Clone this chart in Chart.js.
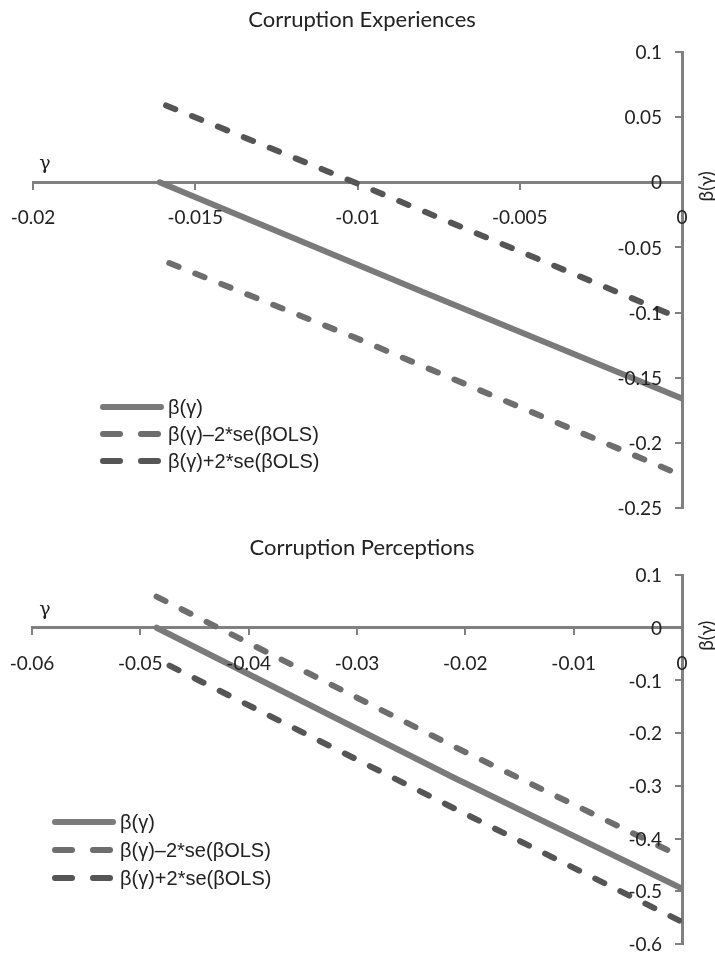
<!DOCTYPE html>
<html>
<head>
<meta charset="utf-8">
<script src="https://cdn.jsdelivr.net/npm/chart.js@4.4.0/dist/chart.umd.min.js"></script>
<style>
  body { margin: 0; background: #fff; width: 715px; height: 956px; overflow: hidden; }
  .box { position: absolute; left: 0; width: 715px; }
</style>
</head>
<body>
<div class="box" style="top:0;height:525px"><canvas id="expChart"></canvas></div>
<div class="box" style="top:525px;height:431px"><canvas id="percChart"></canvas></div>
<script>
// --- Corruption Experiences ---
const expXTicks = [-0.02, -0.015, -0.01, -0.005, 0];
const expYTicks = [0.1, 0.05, 0, -0.05, -0.1, -0.15, -0.2, -0.25];
const expBetaX = [-0.0161, -0.008, 0];
const expBetaY = [0, -0.084, -0.166];
const expMinusX = [-0.0158, -0.01, 0];
const expMinusY = [-0.062, -0.12, -0.225];
const expPlusX = [-0.0159, -0.0101, 0];
const expPlusY = [0.059, 0, -0.105];

// --- Corruption Perceptions ---
const percXTicks = [-0.06, -0.05, -0.04, -0.03, -0.02, -0.01, 0];
const percYTicks = [0.1, 0, -0.1, -0.2, -0.3, -0.4, -0.5, -0.6];
const percBetaX = [-0.0485, -0.021, 0];
const percBetaY = [0, -0.285, -0.495];
const percMinusX = [-0.0485, -0.021, 0];
const percMinusY = [0.059, -0.226, -0.435];
const percPlusX = [-0.0473, -0.021, 0];
const percPlusY = [-0.072, -0.343, -0.558];

const legendLabels = ['β(γ)', 'β(γ)–2*se(βOLS)', 'β(γ)+2*se(βOLS)'];

const AXIS = '#808080';
const SOLID = '#7a7a7a';
const LIGHT = '#6e6e6e';
const DARK = '#555555';

const pts = (xs, ys) => xs.map((x, i) => ({ x, y: ys[i] }));
const fmt = v => String(+(+v).toFixed(3));

// draws title, tick labels, the γ / β(γ) axis names and the inner legend
const decorPlugin = {
  id: 'decor',
  afterDraw(chart, args, opts) {
    const ctx = chart.ctx;
    const xs = chart.scales.x, ys = chart.scales.y;
    const axisY = ys.getPixelForValue(0);
    const axisX = xs.getPixelForValue(0);
    ctx.save();
    ctx.fillStyle = '#222';
    ctx.textAlign = 'center';
    ctx.textBaseline = 'middle';
    ctx.font = '22px Lato';
    ctx.fillText(opts.title, 362, opts.titleY);

    ctx.font = '19px Lato';
    // x tick labels, well below the axis line
    xs.ticks.forEach(t => {
      ctx.fillText(fmt(t.value), xs.getPixelForValue(t.value), axisY + 36);
    });
    // y tick labels sit left of the axis line
    ctx.textAlign = 'right';
    ys.ticks.forEach(t => {
      ctx.fillText(fmt(t.value), axisX - 20, ys.getPixelForValue(t.value) + 1);
    });

    ctx.textAlign = 'center';
    ctx.font = '19px "DejaVu Serif"';
    ctx.fillText('γ', 45, axisY - 18);

    ctx.save();
    ctx.translate(707, axisY + opts.betaShift);
    ctx.rotate(-Math.PI / 2);
    ctx.font = '19px Lato';
    ctx.fillText('β(γ)', 0, 0);
    ctx.restore();

    // legend
    const styles = [
      { color: SOLID, dash: [] },
      { color: LIGHT, dash: [17, 21] },
      { color: DARK, dash: [17, 21] }
    ];
    ctx.font = '20px "Liberation Sans"';
    ctx.textAlign = 'left';
    legendLabels.forEach((label, i) => {
      const y = opts.legendY + i * opts.legendGap;
      ctx.beginPath();
      ctx.setLineDash(styles[i].dash);
      ctx.lineCap = 'round';
      ctx.lineWidth = 6;
      ctx.strokeStyle = styles[i].color;
      ctx.moveTo(opts.legendX + 3, y);
      ctx.lineTo(opts.legendX + 61, y);
      ctx.stroke();
      ctx.setLineDash([]);
      ctx.fillStyle = '#222';
      ctx.fillText(label, opts.legendX + 68, y + 1);
    });
    ctx.restore();
  }
};

function lineSet(label, data, color, dashed) {
  return {
    label, data,
    borderColor: color,
    borderWidth: 6,
    borderDash: dashed ? [10, 18] : [],
    borderCapStyle: 'round',
    pointRadius: 0,
    tension: 0,
    fill: false
  };
}

function axisOpts(min, max, step, isX) {
  return {
    type: 'linear',
    min, max,
    position: isX ? { y: 0 } : { x: 0 },
    border: { display: true, color: AXIS, width: 3 },
    grid: { drawOnChartArea: false, drawTicks: true, tickLength: 6, color: AXIS, lineWidth: 2 },
    ticks: { display: false, stepSize: step, autoSkip: false }
  };
}

function makeChart(id, datasets, xr, yr, padding, decor) {
  return new Chart(document.getElementById(id), {
    type: 'line',
    data: { datasets },
    options: {
      responsive: true,
      maintainAspectRatio: false,
      animation: false,
      layout: { padding },
      plugins: { legend: { display: false }, tooltip: { enabled: false }, decor },
      scales: {
        x: axisOpts(xr[0], xr[1], xr[2], true),
        y: axisOpts(yr[0], yr[1], yr[2], false)
      }
    },
    plugins: [decorPlugin]
  });
}

makeChart('expChart', [
  lineSet(legendLabels[0], pts(expBetaX, expBetaY), SOLID, false),
  lineSet(legendLabels[1], pts(expMinusX, expMinusY), LIGHT, true),
  lineSet(legendLabels[2], pts(expPlusX, expPlusY), DARK, true)
], [expXTicks[0], expXTicks[expXTicks.length - 1], 0.005],
   [expYTicks[expYTicks.length - 1], expYTicks[0], 0.05],
   { left: 33, right: 33, top: 52, bottom: 17 },
   { title: 'Corruption Experiences', titleY: 20, betaShift: 4, legendX: 100, legendY: 407, legendGap: 27 });

makeChart('percChart', [
  lineSet(legendLabels[0], pts(percBetaX, percBetaY), SOLID, false),
  lineSet(legendLabels[1], pts(percMinusX, percMinusY), LIGHT, true),
  lineSet(legendLabels[2], pts(percPlusX, percPlusY), DARK, true)
], [percXTicks[0], percXTicks[percXTicks.length - 1], 0.01],
   [percYTicks[percYTicks.length - 1], percYTicks[0], 0.1],
   { left: 32, right: 33, top: 50, bottom: 12 },
   { title: 'Corruption Perceptions', titleY: 23, betaShift: 8, legendX: 52, legendY: 297, legendGap: 28 });
</script>
</body>
</html>
